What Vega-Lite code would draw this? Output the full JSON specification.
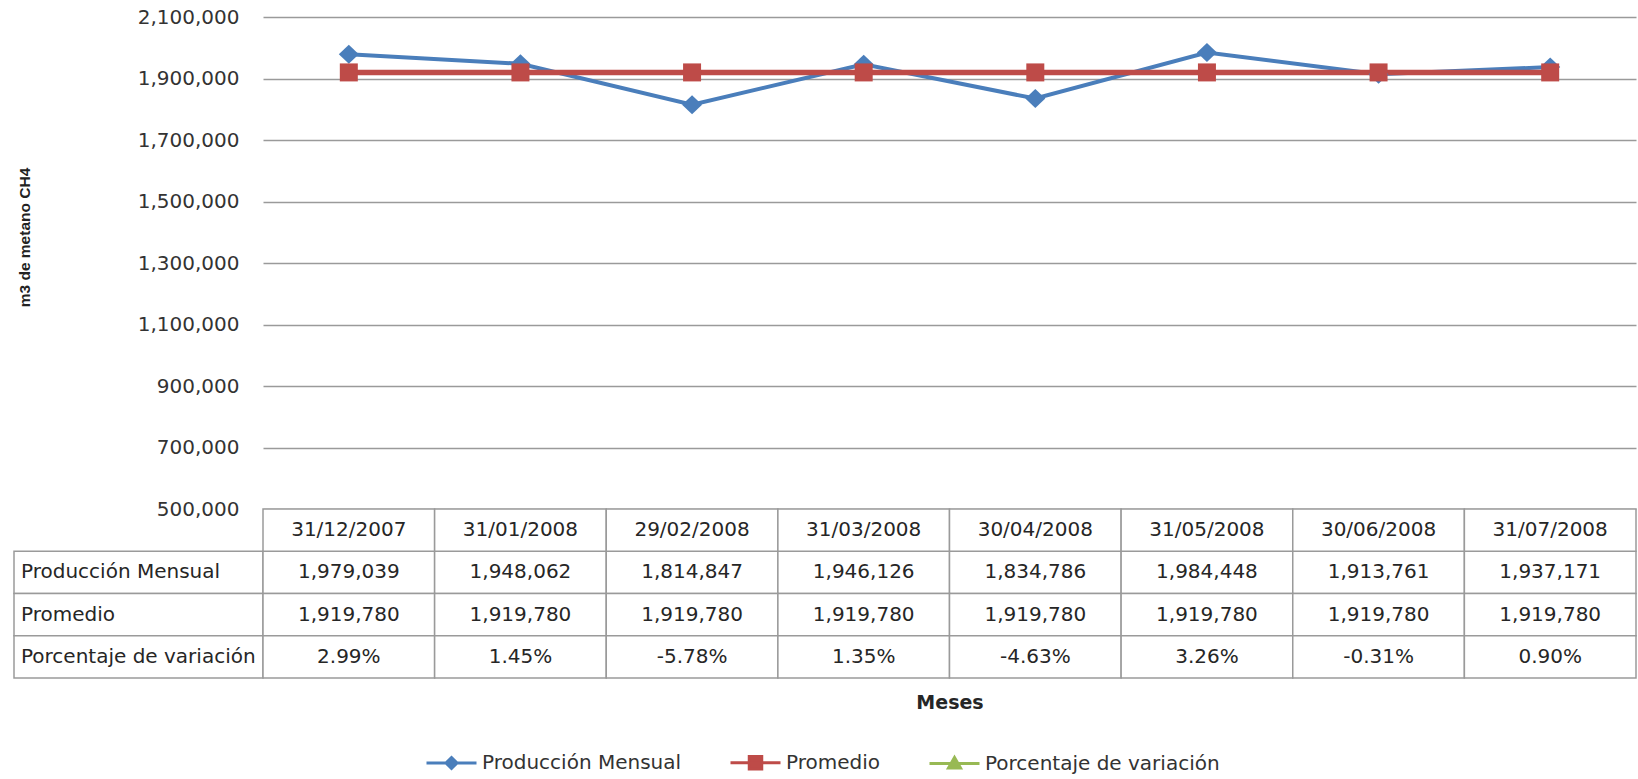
{
  "$schema": "https://vega.github.io/schema/vega-lite/v6.json",
  "padding": {"left": 13, "top": 7, "right": 0, "bottom": 0},
  "background": "white",
  "config": {
    "font": "DejaVu Sans",
    "view": {"stroke": null},
    "locale": {"number": {"decimal": ".", "thousands": ",", "grouping": [3], "currency": ["$", ""], "minus": "-"}}
  },
  "datasets": {
    "tabla": [
      {"fecha": "31/12/2007", "serie": "Producción Mensual", "valor": 1979039},
      {"fecha": "31/01/2008", "serie": "Producción Mensual", "valor": 1948062},
      {"fecha": "29/02/2008", "serie": "Producción Mensual", "valor": 1814847},
      {"fecha": "31/03/2008", "serie": "Producción Mensual", "valor": 1946126},
      {"fecha": "30/04/2008", "serie": "Producción Mensual", "valor": 1834786},
      {"fecha": "31/05/2008", "serie": "Producción Mensual", "valor": 1984448},
      {"fecha": "30/06/2008", "serie": "Producción Mensual", "valor": 1913761},
      {"fecha": "31/07/2008", "serie": "Producción Mensual", "valor": 1937171},
      {"fecha": "31/12/2007", "serie": "Promedio", "valor": 1919780},
      {"fecha": "31/01/2008", "serie": "Promedio", "valor": 1919780},
      {"fecha": "29/02/2008", "serie": "Promedio", "valor": 1919780},
      {"fecha": "31/03/2008", "serie": "Promedio", "valor": 1919780},
      {"fecha": "30/04/2008", "serie": "Promedio", "valor": 1919780},
      {"fecha": "31/05/2008", "serie": "Promedio", "valor": 1919780},
      {"fecha": "30/06/2008", "serie": "Promedio", "valor": 1919780},
      {"fecha": "31/07/2008", "serie": "Promedio", "valor": 1919780},
      {"fecha": "31/12/2007", "serie": "Porcentaje de variación", "valor": 0.0299},
      {"fecha": "31/01/2008", "serie": "Porcentaje de variación", "valor": 0.0145},
      {"fecha": "29/02/2008", "serie": "Porcentaje de variación", "valor": -0.0578},
      {"fecha": "31/03/2008", "serie": "Porcentaje de variación", "valor": 0.0135},
      {"fecha": "30/04/2008", "serie": "Porcentaje de variación", "valor": -0.0463},
      {"fecha": "31/05/2008", "serie": "Porcentaje de variación", "valor": 0.0326},
      {"fecha": "30/06/2008", "serie": "Porcentaje de variación", "valor": -0.0031},
      {"fecha": "31/07/2008", "serie": "Porcentaje de variación", "valor": 0.009}
    ]
  },
  "columns": 2,
  "spacing": 0,
  "bounds": "flush",
  "align": "each",
  "concat": [
    {
      "width": 249,
      "height": 492,
      "data": {"values": []},
      "mark": "point"
    },
    {
      "width": 1373,
      "height": 492,
      "data": {"name": "tabla"},
      "transform": [{"filter": "datum.serie !== 'Porcentaje de variación'"}],
      "encoding": {
        "x": {"field": "fecha", "type": "ordinal", "sort": null, "scale": {"type": "point", "padding": 0.5}, "axis": null},
        "y": {
          "field": "valor", "type": "quantitative",
          "scale": {"domain": [500000, 2100000], "nice": false, "zero": false},
          "axis": {
            "title": "m3 de metano CH4",
            "values": [500000, 700000, 900000, 1100000, 1300000, 1500000, 1700000, 1900000, 2100000],
            "format": ",d",
            "labelFontSize": 20,
            "labelColor": "#333333",
            "labelPadding": 24,
            "ticks": false,
            "domain": false,
            "grid": true,
            "gridColor": "#9a9a9a",
            "gridWidth": 1.5,
            "titleFont": "Liberation Sans",
            "titleFontSize": 15.5,
            "titleFontWeight": "bold",
            "titleColor": "#222222",
            "titleAngle": -90,
            "titleX": -239,
            "titleY": 220,
            "titleAlign": "center",
            "titleBaseline": "middle"
          }
        },
        "color": {
          "field": "serie", "type": "nominal",
          "scale": {"domain": ["Producción Mensual", "Promedio", "Porcentaje de variación"], "range": ["#4A7EBB", "#BE4B48", "#98B954"]},
          "legend": {
            "title": null,
            "orient": "none",
            "direction": "horizontal",
            "legendX": 411,
            "legendY": 719,
            "padding": 0,
            "symbolSize": 2500,
            "symbolStrokeWidth": 3,
            "labelFontSize": 20,
            "labelColor": "#333333",
            "labelOffset": 4,
            "labelLimit": 500,
            "columnPadding": 42,
            "encode": {
              "symbols": {
                "update": {
                  "shape": {"signal": "datum.value === 'Producción Mensual' ? 'M-1,0H1M0,-0.22L0.22,0L0,0.22L-0.22,0Z' : (datum.value === 'Promedio' ? 'M-1,0H1M-0.25,-0.25H0.25V0.25H-0.25Z' : 'M-1,0H1M0,-0.24L0.24,0.18H-0.24Z')"},
                  "fill": {"scale": "color", "field": "value"},
                  "stroke": {"scale": "color", "field": "value"},
                  "strokeWidth": {"value": 3},
                  "opacity": {"value": 1}
                }
              }
            }
          }
        }
      },
      "layer": [
        {
          "mark": {"type": "line"},
          "encoding": {
            "strokeWidth": {"field": "serie", "type": "nominal", "scale": {"domain": ["Producción Mensual", "Promedio"], "range": [4, 5.5]}, "legend": null}
          }
        },
        {
          "mark": {"type": "point", "filled": true, "opacity": 1, "size": 100},
          "encoding": {
            "shape": {"field": "serie", "type": "nominal", "scale": {"domain": ["Producción Mensual", "Promedio"], "range": ["M0,-1.9L2,0L0,1.9L-2,0Z", "M-1.8,-1.8H1.8V1.8H-1.8Z"]}, "legend": null}
          }
        }
      ]
    },
    {
      "width": 249,
      "height": 169,
      "data": {"name": "tabla"},
      "transform": [{"aggregate": [{"op": "count", "as": "n"}], "groupby": ["serie"]}],
      "encoding": {
        "y": {"field": "serie", "type": "nominal", "scale": {"domain": ["Fecha", "Producción Mensual", "Promedio", "Porcentaje de variación"], "paddingInner": 0, "paddingOuter": 0}, "axis": null},
        "x": {"datum": "Serie", "type": "nominal", "scale": {"type": "band", "paddingInner": 0, "paddingOuter": 0}, "axis": null}
      },
      "layer": [
        {"mark": {"type": "rect", "fill": "white", "stroke": "#9a9a9a", "strokeWidth": 1.5}},
        {
          "mark": {"type": "text", "align": "left", "dx": 7, "fontSize": 20, "color": "#262626"},
          "encoding": {
            "text": {"field": "serie"},
            "x": {"datum": "Serie", "type": "nominal", "bandPosition": 0}
          }
        }
      ]
    },
    {
      "width": 1373,
      "height": 169,
      "data": {"name": "tabla"},
      "encoding": {
        "x": {
          "field": "fecha", "type": "ordinal", "sort": null,
          "scale": {"type": "band", "paddingInner": 0, "paddingOuter": 0},
          "axis": {"title": "Meses", "labels": false, "ticks": false, "domain": false, "titleFontSize": 19, "titleFontWeight": "bold", "titleColor": "#262626", "titleY": 24, "titleBaseline": "middle"}
        },
        "y": {"field": "serie", "type": "nominal", "scale": {"domain": ["Fecha", "Producción Mensual", "Promedio", "Porcentaje de variación"], "paddingInner": 0, "paddingOuter": 0}, "axis": null}
      },
      "layer": [
        {"mark": {"type": "rect", "fill": "white", "stroke": "#9a9a9a", "strokeWidth": 1.5}},
        {
          "transform": [{"filter": "datum.serie === 'Promedio'"}],
          "mark": {"type": "rect", "fill": "white", "stroke": "#9a9a9a", "strokeWidth": 1.5},
          "encoding": {"y": {"datum": "Fecha", "type": "nominal"}}
        },
        {
          "transform": [{"filter": "datum.serie === 'Promedio'"}],
          "mark": {"type": "text", "fontSize": 20, "color": "#262626"},
          "encoding": {"y": {"datum": "Fecha", "type": "nominal"}, "text": {"field": "fecha"}}
        },
        {
          "transform": [{"filter": "datum.serie !== 'Porcentaje de variación'"}],
          "mark": {"type": "text", "fontSize": 20, "color": "#262626"},
          "encoding": {"text": {"field": "valor", "type": "quantitative", "format": ",d"}}
        },
        {
          "transform": [{"filter": "datum.serie === 'Porcentaje de variación'"}],
          "mark": {"type": "text", "fontSize": 20, "color": "#262626"},
          "encoding": {"text": {"field": "valor", "type": "quantitative", "format": ".2%"}}
        }
      ]
    }
  ]
}
